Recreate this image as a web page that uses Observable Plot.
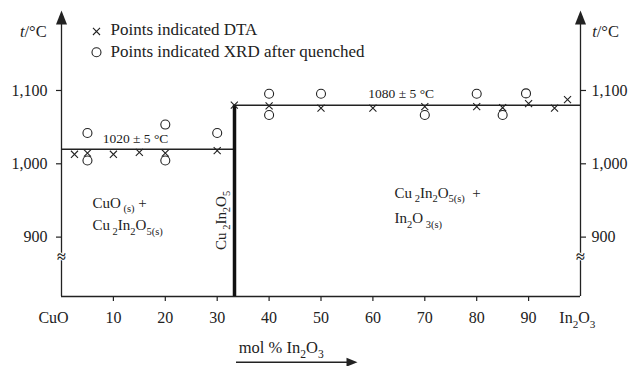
<!DOCTYPE html>
<html><head><meta charset="utf-8">
<script src="https://cdn.jsdelivr.net/npm/d3@7"></script>
<script src="https://cdn.jsdelivr.net/npm/@observablehq/plot@0.6"></script>
<style>body{margin:0;background:#fff}</style>
</head><body><div id="chart"></div>
<script>
// Data
const dtaX = [2.5, 5, 10, 15, 20, 30, 33.3, 40, 50, 60, 70, 80, 85, 90, 95, 97.5];
const dtaT = [1013, 1014.5, 1013, 1015.5, 1014.5, 1018, 1080, 1079, 1076, 1076, 1078, 1078, 1076.5, 1082, 1076, 1087.5];
const xrdX = [5, 5, 20, 20, 30, 40, 40, 50, 70, 80, 85, 89.5];
const xrdT = [1042, 1004.5, 1053.5, 1004.5, 1042, 1095.5, 1066.5, 1095.5, 1066.5, 1095.5, 1066.5, 1096];
const xTicks = [10, 20, 30, 40, 50, 60, 70, 80, 90];
const yTicks = [900, 1000, 1100];
const eutecticLow = 1020, eutecticHigh = 1080, compoundX = 100 / 3;
const legendLabels = ["Points indicated DTA", "Points indicated XRD after quenched"];
const endLabels = ["CuO", "In_{2}O_{3}"];
const plateauLabels = ["1020 ± 5 °C", "1080 ± 5 °C"];
const regionLabels = ["CuO_{ (s)} +", "Cu_{ 2}In_{2}O_{5(s)}", "Cu_{ 2}In_{2}O_{5(s)}  +", "In_{2}O_{ 3(s)}"];
const compoundLabel = "Cu_{ 2}In_{2}O_{5}";
const axisTitle = "mol % In_{2}O_{3}";
const yTitle = "*t*/°C";

const dta = dtaX.map((x, i) => ({x, t: dtaT[i]}));
const xrd = xrdX.map((x, i) => ({x, t: xrdT[i]}));
const ink = "#222";
const yMin = 819, yMax = 1205;
const fmt = d3.format(",d");

const arrowUp = {draw(c) { c.moveTo(0, -9); c.lineTo(5.5, 5); c.lineTo(-5.5, 5); c.closePath(); }};
const arrowRight = {draw(c) { c.moveTo(5, 0); c.lineTo(-6, -4.5); c.lineTo(-6, 4.5); c.closePath(); }};

const chart = Plot.plot({
  width: 630, height: 366,
  marginLeft: 61, marginRight: 50, marginTop: 13, marginBottom: 70,
  x: {domain: [0, 100]},
  y: {domain: [yMin, yMax]},
  style: {fontFamily: "'Liberation Serif', 'Times New Roman', serif", fontSize: "16px", color: ink, background: "#fff"},
  marks: [
    // axes
    Plot.ruleY([yMin], {x1: 0, x2: 100, stroke: ink, strokeWidth: 1.3}),
    Plot.ruleX([0, 100], {y1: yMin, y2: 1196, stroke: ink, strokeWidth: 1.3}),
    Plot.dot([0, 100], {x: d => d, y: 1196.8, symbol: arrowUp, r: 5, fill: ink, stroke: null}),
    Plot.axisY(yTicks, {anchor: "left", tickFormat: fmt, tickSize: 5, tickPadding: 9, fontSize: 16, label: null, stroke: ink, strokeWidth: 1.2}),
    Plot.axisY(yTicks, {anchor: "right", tickFormat: fmt, tickSize: 5, tickPadding: 6, fontSize: 16, label: null, stroke: ink, strokeWidth: 1.2}),
    Plot.axisX(xTicks, {anchor: "bottom", tickSize: 5, tickPadding: 10, fontSize: 16, label: null, stroke: ink, strokeWidth: 1.2}),
    Plot.text([endLabels[0]], {x: -1.54, y: 782.6, text: d => d, fontSize: 16, lineAnchor: "bottom", fill: ink}),
    Plot.text([endLabels[1]], {x: 99.4, y: 782.6, text: d => d, fontSize: 16, lineAnchor: "bottom", fill: ink}),
    // axis breaks
    Plot.text([0, 100], {x: d => d, y: 872.5, text: () => "≈", fontSize: 16, fontWeight: "bold", fill: ink, stroke: "#fff", strokeWidth: 2}),
    // y titles
    Plot.text([yTitle], {x: -2.85, y: 1173.6, text: d => d, textAnchor: "end", lineAnchor: "bottom", fontSize: 16.5, fill: ink}),
    Plot.text([yTitle], {x: 102.25, y: 1173.6, text: d => d, textAnchor: "start", lineAnchor: "bottom", fontSize: 16.5, fill: ink}),
    // x title with arrow
    Plot.text([axisTitle], {x: 34.16, y: 741.7, text: d => d, textAnchor: "start", lineAnchor: "bottom", fontSize: 16.5, fill: ink}),
    Plot.ruleY([729.4], {x1: 33.72, x2: 55.5, stroke: ink, strokeWidth: 1.4}),
    Plot.dot([56.07], {x: d => d, y: 729.4, symbol: arrowRight, r: 5, fill: ink, stroke: null}),
    // phase boundaries
    Plot.ruleY([eutecticLow], {x1: 0, x2: compoundX, stroke: ink, strokeWidth: 1.5}),
    Plot.ruleY([eutecticHigh], {x1: compoundX, x2: 100, stroke: ink, strokeWidth: 1.5}),
    Plot.ruleX([compoundX], {y1: yMin, y2: eutecticHigh, stroke: "#111", strokeWidth: 3.5}),
    // data
    Plot.dot(dta, {x: "x", y: "t", symbol: "times", r: 3.3, stroke: ink, strokeWidth: 1.1}),
    Plot.dot(xrd, {x: "x", y: "t", symbol: "circle", r: 4.5, stroke: ink, strokeWidth: 1.1, fill: "none"}),
    // legend
    Plot.dot([legendLabels[0]], {x: 6.74, y: 1180.5, symbol: "times", r: 3.3, stroke: ink, strokeWidth: 1.1}),
    Plot.dot([legendLabels[1]], {x: 6.74, y: 1152.2, symbol: "circle", r: 4.5, stroke: ink, strokeWidth: 1.1, fill: "none"}),
    Plot.text([legendLabels[0]], {x: 9.44, y: 1175, text: d => d, textAnchor: "start", lineAnchor: "bottom", fontSize: 17, fill: ink}),
    Plot.text([legendLabels[1]], {x: 9.44, y: 1145, text: d => d, textAnchor: "start", lineAnchor: "bottom", fontSize: 17, fill: ink}),
    // plateau labels
    Plot.text([plateauLabels[0]], {x: 14.26, y: 1027.7, text: d => d, lineAnchor: "bottom", fontSize: 13.5, fill: ink}),
    Plot.text([plateauLabels[1]], {x: 65.45, y: 1089.5, text: d => d, lineAnchor: "bottom", fontSize: 13.5, fill: ink}),
    // region labels
    Plot.text([regionLabels[0]], {x: 5.97, y: 940.1, text: d => d, textAnchor: "start", lineAnchor: "bottom", fontSize: 15, fill: ink}),
    Plot.text([regionLabels[1]], {x: 5.97, y: 909.1, text: d => d, textAnchor: "start", lineAnchor: "bottom", fontSize: 15, fill: ink}),
    Plot.text([regionLabels[2]], {x: 64.16, y: 953.5, text: d => d, textAnchor: "start", lineAnchor: "bottom", fontSize: 15, fill: ink}),
    Plot.text([regionLabels[3]], {x: 64.16, y: 918.7, text: d => d, textAnchor: "start", lineAnchor: "bottom", fontSize: 15, fill: ink}),
    Plot.text([compoundLabel], {x: 31.6, y: 922.8, text: d => d, rotate: -90, lineAnchor: "bottom", fontSize: 15, fill: ink})
  ]
});

function richify(svg) {
  const NS = "http://www.w3.org/2000/svg";
  svg.querySelectorAll("text").forEach(t => {
    if (t.querySelector("tspan")) return;
    const s = t.textContent;
    if (!/_\{|\*/.test(s)) return;
    const parts = s.split(/(_\{[^}]*\}|\*[^*]*\*)/).filter(p => p !== "");
    t.textContent = "";
    let shifted = false;
    for (const p of parts) {
      const ts = document.createElementNS(NS, "tspan");
      if (p.startsWith("_{")) {
        ts.textContent = p.slice(2, -1);
        ts.setAttribute("font-size", "70%");
        if (!shifted) { ts.setAttribute("dy", "0.4em"); shifted = true; }
      } else {
        if (p.startsWith("*")) { ts.textContent = p.slice(1, -1); ts.setAttribute("font-style", "italic"); }
        else ts.textContent = p;
        if (shifted) { ts.setAttribute("dy", "-0.28em"); shifted = false; }
      }
      t.appendChild(ts);
    }
  });
}
richify(chart);
document.getElementById("chart").appendChild(chart);
</script>
</body></html>
